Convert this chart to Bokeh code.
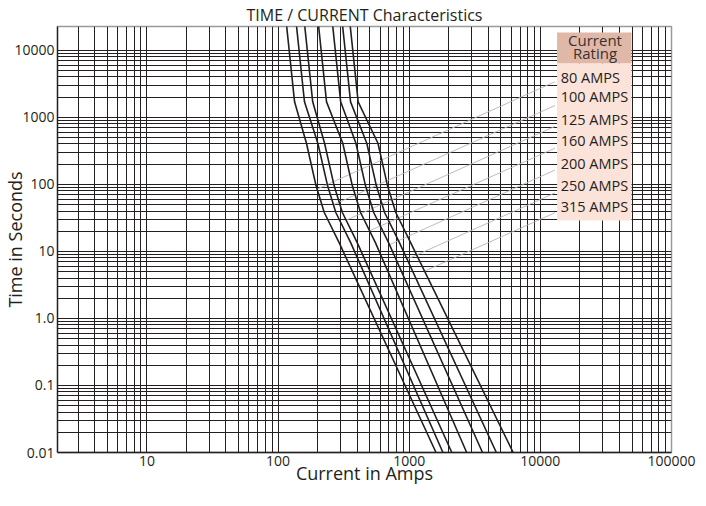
from bokeh.plotting import figure
from bokeh.models import FixedTicker, BoxAnnotation, Range1d
from bokeh.embed import file_html
from bokeh.resources import INLINE
from bokeh.core.properties import value

# ---------------- data ----------------
ratings = ["80 AMPS", "100 AMPS", "125 AMPS", "160 AMPS", "200 AMPS", "250 AMPS", "315 AMPS"]

# time points (s) shared by all curves
curve_times = [25000, 1700, 410, 95, 38, 13.5, 0.01]

# current (A) for each curve at the above times
amps_80 = [115.7, 133.6, 164.6, 194.9, 225, 292, 1601]
amps_100 = [137.6, 159, 201, 238.7, 275.6, 357.7, 1808]
amps_125 = [159, 183.7, 226.2, 267.7, 309.2, 401.2, 2113]
amps_160 = [202.8, 234.2, 311.4, 368.5, 425.6, 552.3, 2743]
amps_200 = [259.9, 300.2, 392.3, 464.2, 536.2, 695.7, 3622]
amps_250 = [309.2, 357.1, 474.8, 561.9, 649, 842, 4617]
amps_315 = [353.4, 408.1, 577.8, 683.6, 789.6, 1025, 6203]
curve_amps = [amps_80, amps_100, amps_125, amps_160, amps_200, amps_250, amps_315]

# leader lines from the rating labels to their curves
leader_start_amps = [12900] * 7
leader_start_times = [3390, 1496, 731, 345, 163, 74.3, 37.6]
leader_end_amps = [199, 263, 330, 500, 708, 968, 1311]
leader_end_times = [85, 49.4, 29.1, 20.3, 12.6, 7.66, 5.07]

# rating label anchors
label_amps = [14300] * 7
label_times = [3985, 2037, 920, 444, 207.7, 97.1, 47.5]

# legend box (data coordinates)
box_left, box_right = 13410, 49550
header_top, header_bottom, box_bottom = 18460, 6420, 28.8
header_text = ["Current", "Rating"]
header_amps = [26100, 26100]
header_times = [14200, 9030]

# axis ticks
x_ticks = [10, 100, 1000, 10000, 100000]
x_tick_labels = ["10", "100", "1000", "10000", "100000"]
y_ticks = [0.01, 0.1, 1, 10, 100, 1000, 10000]
y_tick_labels = ["0.01", "0.1", "1.0", "10", "100", "1000", "10000"]
x_minor = [m * 10 ** d for d in range(0, 5) for m in range(2, 10)]
y_minor = [m * 10.0 ** d for d in range(-2, 4) for m in range(2, 10)]

INK = "#231f20"
FONT = "Open Sans"

p = figure(width=698, height=490, x_axis_type="log", y_axis_type="log",
           x_range=Range1d(2.08, 100000), y_range=Range1d(0.01, 22600),
           output_backend="svg", toolbar_location=None,
           title="TIME / CURRENT Characteristics",
           min_border_left=53, min_border_right=27, min_border_top=24,
           min_border_bottom=38)

p.title.align = "center"
p.title.text_font = FONT
p.title.text_font_size = "16px"
p.title.text_font_style = "normal"
p.title.text_color = INK
p.title.standoff = 2

p.background_fill_color = "white"
p.border_fill_color = "white"
p.outline_line_color = "#9a9a9a"
p.outline_line_width = 1.5

p.xaxis.ticker = FixedTicker(ticks=x_ticks, minor_ticks=x_minor)
p.yaxis.ticker = FixedTicker(ticks=y_ticks, minor_ticks=y_minor)
p.xaxis.major_label_overrides = dict(zip(x_ticks, x_tick_labels))
p.yaxis.major_label_overrides = dict(zip(y_ticks, y_tick_labels))

for ax in (p.xaxis[0], p.yaxis[0]):
    ax.major_tick_line_color = None
    ax.minor_tick_line_color = None
    ax.major_tick_out = 0
    ax.major_tick_in = 0
    ax.minor_tick_out = 0
    ax.minor_tick_in = 0
    ax.axis_line_color = INK
    ax.axis_line_width = 1.3
    ax.major_label_text_font = FONT
    ax.major_label_text_font_size = "14px"
    ax.major_label_text_color = INK
    ax.major_label_standoff = 3
    ax.axis_label_text_font = FONT
    ax.axis_label_text_font_size = "18px"
    ax.axis_label_text_font_style = "normal"
    ax.axis_label_text_color = INK

p.xaxis.axis_label = "Current in Amps"
p.xaxis.axis_label_standoff = -8
p.yaxis.axis_label = "Time in Seconds"
p.yaxis.axis_label_standoff = -16

for g in (p.xgrid[0], p.ygrid[0]):
    g.grid_line_color = INK
    g.grid_line_width = 1
    g.grid_line_alpha = 1
    g.minor_grid_line_color = INK
    g.minor_grid_line_width = 1
    g.minor_grid_line_alpha = 1

# legend box
p.add_layout(BoxAnnotation(left=box_left, right=box_right, bottom=box_bottom, top=header_bottom,
                           fill_color="#fce3d9", fill_alpha=1, line_color=None, level="underlay"))
p.add_layout(BoxAnnotation(left=box_left, right=box_right, bottom=header_bottom, top=header_top,
                           fill_color="#dfb8a8", fill_alpha=1, line_color=None, level="underlay"))

# leader lines
p.segment(x0=leader_start_amps, y0=leader_start_times, x1=leader_end_amps, y1=leader_end_times,
          line_color="#b5b5b5", line_width=0.9)

# curves
for amps in curve_amps:
    p.line(x=amps, y=curve_times, line_color=INK, line_width=1.6)

# legend texts
p.text(x=header_amps, y=header_times, text=header_text, text_font=value(FONT),
       text_font_size="15px", text_align="center", text_baseline="middle", text_color="#3a3230")
p.text(x=label_amps, y=label_times, text=ratings, text_font=value(FONT),
       text_font_size="14.5px", text_align="left", text_baseline="middle", text_color=INK)

open("out.html", "w").write(file_html(p, INLINE))
